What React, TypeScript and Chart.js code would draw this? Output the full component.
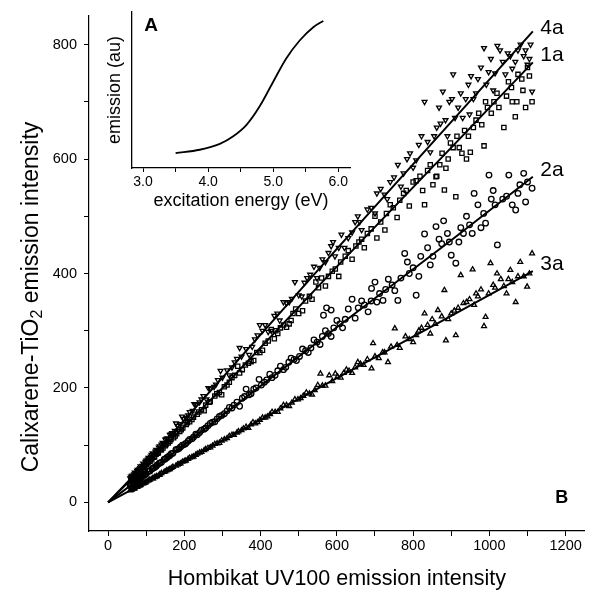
import React, { useEffect, useRef } from 'react';
import { Chart, registerables } from 'chart.js';
Chart.register(...registerables);

const FONT = "'Liberation Sans', Arial, Helvetica, sans-serif";

// ---- main plot axes ----
const xTicksMain = [0, 100, 200, 300, 400, 500, 600, 700, 800, 900, 1000, 1100, 1200];
const yTicksMain = [0, 100, 200, 300, 400, 500, 600, 700, 800];

// ---- fitted lines ----
const fitX = [0, 100, 300, 600, 900, 1114];
const fit4aY = [0, 70, 218, 443, 665, 823];
const fit1aY = [0, 66, 200, 412, 620, 769];
const fit2aY = [0, 50, 152, 306, 458, 569];
const fit3aY = [0, 36, 108, 217, 326, 404];

// ---- scatter series (x, y) ----
const s4a: number[][] = [
  [58, 42], [63, 47], [66, 44], [70, 52], [74, 50], [78, 57], [82, 58], [85, 63], [88, 61], [92, 68],
  [96, 66], [100, 73], [104, 75], [108, 77], [112, 80], [117, 86], [121, 84], [126, 92], [130, 90], [135, 98],
  [140, 101], [146, 103], [150, 110], [156, 112], [162, 118], [168, 121], [175, 125], [182, 134], [190, 137], [198, 146],
  [205, 148], [214, 158], [222, 160], [230, 171], [240, 175], [250, 186], [258, 180], [268, 199], [278, 202], [288, 214],
  [300, 218], [312, 231], [325, 236], [338, 251], [350, 255], [362, 268], [378, 272], [392, 292], [405, 300], [420, 298],
  [436, 326], [450, 318], [468, 348], [482, 356], [500, 362], [515, 384], [530, 398], [540, 412], [548, 392], [562, 425],
  [578, 436], [590, 455], [595, 430], [612, 468], [620, 445], [630, 462], [648, 490], [655, 500], [665, 476], [680, 512],
  [700, 505], [705, 540], [715, 548], [732, 530], [750, 568], [760, 590], [768, 552], [784, 600], [800, 585], [815, 625],
  [822, 640], [830, 700], [845, 612], [862, 655], [872, 662], [878, 718], [890, 640], [902, 705], [905, 748], [918, 690],
  [930, 672], [945, 730], [948, 678], [958, 705], [970, 740], [986, 794], [998, 752], [1010, 720], [1021, 798], [1035, 770],
  [1048, 785], [1060, 758], [1075, 790], [1090, 780], [1100, 765], [1108, 800], [1112, 718],
  [60, 45], [68, 49], [76, 55], [84, 60], [90, 64], [98, 71], [106, 78], [114, 83], [124, 89], [133, 96],
  [143, 104], [153, 111], [165, 119], [178, 138], [194, 150], [210, 152], [226, 172], [245, 180], [263, 200], [283, 206],
  [295, 230], [318, 222], [332, 245], [345, 270], [370, 258], [385, 285], [398, 310], [412, 310], [428, 300], [444, 330],
  [460, 350], [475, 350], [490, 385], [508, 360], [522, 392], [555, 410], [570, 420], [585, 448], [605, 445], [640, 472],
  [660, 490], [690, 515], [725, 538], [740, 560], [775, 575], [792, 610], [808, 598], [838, 630], [855, 640], [868, 690],
  [885, 668], [895, 700], [910, 672], [925, 715], [938, 705], [952, 745], [965, 715], [978, 760], [992, 730], [1004, 775],
  [1015, 750], [1028, 790], [1042, 748], [1055, 780], [1068, 770], [1082, 800], [1095, 790], [1105, 775]
];
const s1a: number[][] = [
  [60, 40], [64, 43], [68, 44], [72, 48], [76, 50], [80, 53], [84, 55], [88, 58], [92, 61], [96, 63],
  [100, 66], [105, 70], [110, 72], [115, 76], [120, 79], [126, 84], [132, 87], [138, 92], [144, 95], [150, 99],
  [158, 104], [165, 110], [172, 113], [180, 120], [188, 124], [196, 130], [205, 136], [214, 141], [224, 149], [234, 154],
  [245, 162], [256, 170], [268, 176], [280, 186], [292, 192], [305, 202], [318, 210], [332, 222], [345, 226], [360, 240],
  [375, 246], [390, 262], [405, 266], [420, 282], [436, 286], [440, 300], [452, 305], [468, 306], [480, 318], [485, 330],
  [500, 330], [518, 352], [535, 355], [552, 375], [560, 392], [570, 378], [588, 404], [605, 395], [610, 420], [622, 430],
  [640, 425], [658, 455], [672, 445], [690, 478], [700, 500], [705, 462], [726, 476], [740, 520], [758, 498], [775, 540],
  [790, 518], [800, 560], [808, 562], [825, 545], [830, 520], [845, 590], [860, 569], [862, 570], [870, 590], [876, 610],
  [882, 546], [886, 584], [898, 628], [912, 534], [921, 620], [935, 650], [940, 600], [950, 612], [965, 668], [986, 623],
  [990, 700], [1005, 680], [1020, 715], [1038, 655], [1050, 735], [1060, 700], [1068, 674], [1075, 748], [1088, 720], [1095, 690],
  [1100, 760], [1112, 700],
  [62, 41], [70, 46], [78, 52], [86, 57], [94, 62], [102, 68], [112, 74], [122, 80], [130, 86], [140, 92],
  [152, 101], [162, 107], [176, 116], [192, 127], [208, 139], [220, 145], [238, 158], [252, 160], [265, 175], [285, 190],
  [298, 188], [312, 205], [325, 218], [340, 238], [352, 232], [368, 243], [382, 248], [398, 262], [412, 278], [428, 302],
  [445, 295], [460, 310], [475, 312], [492, 338], [510, 335], [528, 360], [545, 385], [578, 395], [596, 408], [630, 440],
  [650, 448], [665, 460], [680, 470], [715, 490], [730, 505], [748, 515], [765, 528], [782, 545], [818, 570], [838, 580],
  [852, 555], [892, 600], [905, 620], [915, 640], [928, 610], [945, 640], [958, 655], [972, 680], [980, 660], [995, 690],
  [1012, 700], [1025, 690], [1045, 710], [1058, 725], [1072, 700], [1085, 740], [1105, 745]
];
const s2a: number[][] = [
  [58, 29], [62, 32], [66, 33], [70, 35], [74, 38], [78, 39], [82, 42], [86, 43], [90, 46], [95, 48],
  [100, 50], [105, 54], [110, 55], [116, 59], [122, 61], [128, 65], [134, 68], [140, 70], [147, 75], [154, 78],
  [162, 82], [170, 86], [178, 92], [186, 94], [195, 100], [204, 103], [214, 110], [224, 114], [234, 118], [245, 126],
  [256, 130], [268, 138], [280, 141], [292, 150], [305, 155], [318, 166], [330, 170], [345, 168], [352, 182], [362, 198],
  [375, 190], [388, 200], [396, 215], [410, 210], [424, 224], [438, 222], [452, 238], [466, 236], [480, 252], [494, 248],
  [510, 268], [525, 262], [540, 284], [556, 276], [565, 327], [570, 300], [573, 340], [585, 336], [585, 290], [600, 318],
  [615, 305], [630, 338], [640, 355], [648, 322], [665, 352], [682, 333], [691, 374], [700, 385], [705, 350], [721, 353],
  [735, 390], [752, 370], [760, 353], [778, 435], [790, 400], [808, 362], [820, 430], [830, 469], [845, 415], [860, 482],
  [875, 452], [880, 492], [890, 470], [900, 432], [912, 418], [920, 455], [925, 480], [940, 500], [955, 470], [960, 540],
  [970, 520], [985, 505], [990, 488], [999, 572], [1005, 530], [1010, 545], [1021, 450], [1035, 530], [1051, 572], [1060, 520],
  [1069, 511], [1080, 555], [1090, 575], [1095, 525], [1112, 549],
  [60, 30], [68, 34], [76, 38], [84, 42], [92, 47], [98, 49], [108, 55], [118, 60], [126, 63], [136, 69],
  [150, 76], [158, 80], [166, 85], [182, 93], [190, 97], [200, 101], [210, 107], [220, 111], [230, 119], [240, 122],
  [252, 128], [262, 134], [274, 140], [286, 146], [298, 152], [312, 160], [325, 165], [338, 175], [358, 185], [370, 188],
  [382, 198], [402, 205], [416, 214], [430, 218], [445, 230], [460, 232], [474, 245], [488, 250], [502, 255], [518, 265],
  [532, 270], [548, 280], [562, 290], [578, 295], [592, 305], [608, 312], [622, 320], [656, 340], [672, 345], [690, 352],
  [712, 365], [728, 372], [745, 380], [768, 392], [785, 420], [800, 410], [815, 395], [838, 445], [852, 430], [868, 460],
  [895, 455], [932, 470], [948, 485], [978, 480], [1015, 520], [1045, 535], [1075, 540], [1100, 560]
];
const s3a: number[][] = [
  [58, 21], [62, 22], [66, 24], [70, 25], [74, 27], [78, 28], [82, 29], [86, 31], [90, 33], [95, 34],
  [100, 36], [105, 38], [110, 40], [116, 42], [122, 44], [128, 46], [134, 48], [140, 51], [147, 53], [154, 56],
  [162, 58], [170, 62], [178, 64], [186, 67], [195, 71], [204, 73], [214, 78], [224, 80], [234, 85], [245, 88],
  [256, 93], [268, 96], [280, 102], [292, 104], [305, 110], [318, 116], [330, 118], [342, 124], [355, 129], [368, 130],
  [380, 140], [392, 140], [405, 148], [418, 150], [430, 158], [445, 158], [460, 170], [475, 168], [490, 180], [505, 182],
  [520, 192], [535, 188], [550, 205], [557, 225], [570, 204], [580, 222], [596, 225], [610, 218], [625, 232], [640, 226],
  [655, 245], [670, 240], [680, 250], [691, 234], [695, 278], [710, 252], [720, 262], [734, 245], [752, 304], [765, 270],
  [780, 290], [800, 280], [815, 300], [830, 330], [845, 295], [850, 320], [865, 336], [882, 371], [886, 283], [900, 330],
  [912, 292], [925, 397], [940, 350], [956, 407], [960, 345], [970, 360], [986, 308], [990, 324], [1003, 418], [1015, 375],
  [1020, 400], [1030, 390], [1045, 365], [1055, 406], [1060, 385], [1069, 350], [1081, 420], [1090, 395], [1099, 377], [1112, 435],
  [60, 22], [68, 24], [76, 27], [84, 30], [92, 33], [98, 35], [108, 39], [118, 42], [126, 45], [136, 49],
  [150, 54], [158, 57], [166, 60], [182, 66], [190, 68], [200, 72], [210, 76], [220, 79], [230, 83], [240, 87],
  [252, 91], [262, 95], [274, 99], [286, 103], [298, 108], [312, 112], [325, 118], [338, 122], [350, 126], [362, 132],
  [375, 136], [386, 138], [398, 144], [412, 148], [425, 154], [438, 158], [452, 164], [468, 170], [482, 174], [498, 180],
  [512, 186], [528, 190], [542, 196], [562, 204], [588, 212], [602, 220], [618, 226], [632, 230], [648, 236], [662, 242],
  [700, 255], [725, 262], [742, 272], [758, 275], [790, 285], [808, 292], [822, 305], [838, 310], [858, 312], [875, 325],
  [892, 320], [908, 335], [918, 340], [932, 348], [948, 355], [965, 365], [978, 372], [998, 365], [1010, 380], [1038, 378],
  [1050, 390], [1075, 395], [1105, 400]
];

// ---- inset (A) ----
const insetEnergy = [3.5, 3.87, 4.18, 4.38, 4.59, 4.79, 5.0, 5.2, 5.41, 5.62, 5.77];
const insetEmission = [0.096, 0.117, 0.155, 0.202, 0.277, 0.394, 0.553, 0.702, 0.819, 0.904, 0.943];
const insetTicks = [3.0, 3.5, 4.0, 4.5, 5.0, 5.5, 6.0];

const toXY = (d: number[][]) => d.map(([x, y]) => ({ x, y }));
const fitXY = (ys: number[]) => fitX.map((x, i) => ({ x, y: ys[i] }));

const scatterDs = (label: string, data: number[][], style: string, rotation = 0) => ({
  label,
  data: toXY(data),
  pointStyle: style,
  rotation,
  pointRadius: style === 'rect' ? 3.0 : 2.8,
  borderWidth: 1.3,
  borderColor: '#000',
  backgroundColor: 'rgba(0,0,0,0)',
  showLine: false,
  order: 2,
});

const lineDs = (label: string, ys: number[]) => ({
  label,
  data: fitXY(ys),
  showLine: true,
  pointRadius: 0,
  borderColor: '#000',
  borderWidth: 2,
  tension: 0,
  fill: false,
  order: 1,
});

const seriesLabels = [
  { text: '4a', x: 1164, y: 829 },
  { text: '1a', x: 1164, y: 782 },
  { text: '2a', x: 1164, y: 580 },
  { text: '3a', x: 1164, y: 416 },
];

export default function App() {
  const mainRef = useRef<HTMLCanvasElement>(null);
  const insetRef = useRef<HTMLCanvasElement>(null);

  useEffect(() => {
    Chart.defaults.font.family = FONT;
    Chart.defaults.color = '#000';

    const mainPlugin = {
      id: 'mainText',
      afterDraw(chart: any) {
        const ctx = chart.ctx;
        const xs = chart.scales.x;
        const ys = chart.scales.y;
        ctx.save();
        ctx.fillStyle = '#000';
        ctx.textAlign = 'center';
        ctx.textBaseline = 'middle';
        ctx.font = `21px ${FONT}`;
        seriesLabels.forEach((l) => {
          ctx.fillText(l.text, xs.getPixelForValue(l.x), ys.getPixelForValue(l.y));
        });
        ctx.font = `bold 18px ${FONT}`;
        ctx.fillText('B', xs.getPixelForValue(1190), ys.getPixelForValue(8));
        ctx.restore();

        // y title with subscript
        ctx.save();
        ctx.translate(32, 297);
        ctx.rotate(-Math.PI / 2);
        ctx.fillStyle = '#000';
        ctx.textBaseline = 'middle';
        ctx.textAlign = 'left';
        const big = `23px ${FONT}`;
        const small = `16px ${FONT}`;
        const p1 = 'Calixarene-TiO';
        const p2 = '2';
        const p3 = ' emission intensity';
        ctx.font = big;
        const w1 = ctx.measureText(p1).width;
        const w3 = ctx.measureText(p3).width;
        ctx.font = small;
        const w2 = ctx.measureText(p2).width;
        const x0 = -(w1 + w2 + w3) / 2;
        ctx.font = big;
        ctx.fillText(p1, x0, 0);
        ctx.font = small;
        ctx.fillText(p2, x0 + w1, 6);
        ctx.font = big;
        ctx.fillText(p3, x0 + w1 + w2, 0);
        ctx.restore();
      },
    };

    const main = new Chart(mainRef.current!, {
      type: 'scatter',
      data: {
        datasets: [
          lineDs('fit 4a', fit4aY),
          lineDs('fit 1a', fit1aY),
          lineDs('fit 2a', fit2aY),
          lineDs('fit 3a', fit3aY),
          scatterDs('4a', s4a, 'triangle', 180),
          scatterDs('1a', s1a, 'rect'),
          scatterDs('2a', s2a, 'circle'),
          scatterDs('3a', s3a, 'triangle'),
        ] as any,
      },
      options: {
        responsive: false,
        animation: false,
        devicePixelRatio: 1,
        layout: { padding: { top: 16, right: 2, left: 0, bottom: 0 } },
        plugins: { legend: { display: false }, tooltip: { enabled: false } },
        scales: {
          x: {
            type: 'linear',
            min: -50,
            max: 1250,
            afterBuildTicks: (s: any) => { s.ticks = xTicksMain.map((v) => ({ value: v })); },
            afterFit: (s: any) => { s.height = 62; },
            ticks: {
              autoSkip: false,
              maxRotation: 0,
              padding: 1,
              font: { size: 14.5 },
              color: '#000',
              callback: (v: any) => (Number(v) % 200 === 0 ? String(v) : ''),
            },
            grid: { drawOnChartArea: false, drawTicks: true, tickLength: 5, color: '#000', tickWidth: 1 },
            border: { display: true, color: '#000', width: 1.2 },
            title: {
              display: true,
              text: 'Hombikat UV100 emission intensity',
              font: { size: 21.5 },
              color: '#000',
              padding: { top: 0, bottom: 1 },
            },
          },
          y: {
            type: 'linear',
            min: -50,
            max: 850,
            afterBuildTicks: (s: any) => { s.ticks = yTicksMain.map((v) => ({ value: v })); },
            afterFit: (s: any) => { s.width = 89; },
            ticks: {
              autoSkip: false,
              padding: 7,
              font: { size: 14.5 },
              color: '#000',
              callback: (v: any) => (Number(v) % 200 === 0 ? String(v) : ''),
            },
            grid: { drawOnChartArea: false, drawTicks: true, tickLength: 5, color: '#000', tickWidth: 1 },
            border: { display: true, color: '#000', width: 1.2 },
          },
        },
      } as any,
      plugins: [mainPlugin],
    });

    const insetPlugin = {
      id: 'insetText',
      afterDraw(chart: any) {
        const ctx = chart.ctx;
        const a = chart.chartArea;
        ctx.save();
        ctx.fillStyle = '#000';
        ctx.textAlign = 'center';
        ctx.textBaseline = 'middle';
        ctx.font = `bold 19px ${FONT}`;
        ctx.fillText('A', a.left + 19, a.top + 14);
        ctx.restore();
      },
    };

    const inset = new Chart(insetRef.current!, {
      type: 'scatter',
      data: {
        datasets: [
          {
            label: 'emission',
            data: insetEnergy.map((x, i) => ({ x, y: insetEmission[i] })),
            showLine: true,
            pointRadius: 0,
            borderColor: '#000',
            borderWidth: 1.8,
            cubicInterpolationMode: 'monotone',
            fill: false,
          },
        ] as any,
      },
      options: {
        responsive: false,
        animation: false,
        devicePixelRatio: 1,
        layout: { padding: { top: 12, right: 10, left: 0, bottom: 0 } },
        plugins: { legend: { display: false }, tooltip: { enabled: false } },
        scales: {
          x: {
            type: 'linear',
            min: 2.83,
            max: 6.18,
            afterBuildTicks: (s: any) => { s.ticks = insetTicks.map((v) => ({ value: v })); },
            afterFit: (s: any) => { s.height = 57; },
            ticks: {
              autoSkip: false,
              maxRotation: 0,
              padding: 2,
              font: { size: 14 },
              color: '#000',
              callback: (v: any) => (Math.abs(Number(v) - Math.round(Number(v))) < 1e-6 ? Number(v).toFixed(1) : ''),
            },
            grid: { drawOnChartArea: false, drawTicks: true, tickLength: 4, color: '#000' },
            border: { display: true, color: '#000', width: 1.3 },
            title: {
              display: true,
              text: 'excitation energy (eV)',
              font: { size: 18 },
              color: '#000',
              padding: { top: 0, bottom: 13 },
            },
          },
          y: {
            type: 'linear',
            min: 0,
            max: 1,
            afterFit: (s: any) => { s.width = 37; },
            ticks: { display: false },
            grid: { display: false, drawTicks: false },
            border: { display: true, color: '#000', width: 1.3 },
            title: {
              display: true,
              text: 'emission (au)',
              font: { size: 18 },
              color: '#000',
              padding: { top: 9, bottom: 0 },
            },
          },
        },
      } as any,
      plugins: [insetPlugin],
    });

    return () => {
      main.destroy();
      inset.destroy();
    };
  }, []);

  return (
    <div style={{ position: 'absolute', left: 0, top: 0, width: 590, height: 593, background: '#fff' }}>
      <canvas ref={mainRef} width={590} height={593} style={{ position: 'absolute', left: 0, top: 0, width: 590, height: 593 }} />
      <canvas ref={insetRef} width={265} height={225} style={{ position: 'absolute', left: 95, top: 0, width: 265, height: 225 }} />
    </div>
  );
}
